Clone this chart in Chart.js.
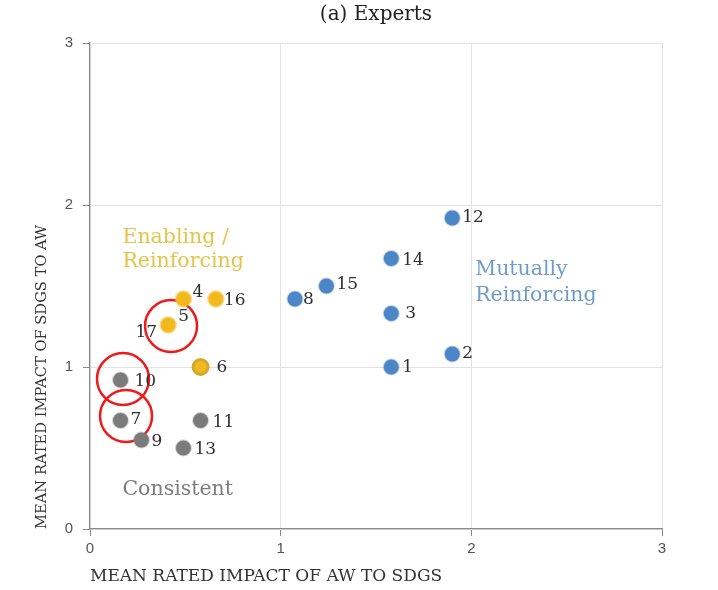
<!DOCTYPE html>
<html>
<head>
<meta charset="utf-8">
<title>(a) Experts</title>
<script src="https://cdn.jsdelivr.net/npm/chart.js@4.4.1/dist/chart.umd.min.js"></script>
<style>
  html, body { margin: 0; padding: 0; background: #ffffff; }
  #wrap { width: 718px; height: 590px; }
</style>
</head>
<body>
<div id="wrap"><canvas id="chart" width="718" height="590"></canvas></div>
<script>
// Mean rated impact of animal welfare (AW) to SDGs (x) and SDGs to AW (y), expert panel.
const tickValues = [0, 1, 2, 3];

// Mutually reinforcing SDGs
const mutualIds = ['1', '2', '3', '8', '12', '14', '15'];
const mutualX   = [1.58, 1.90, 1.58, 1.075, 1.90, 1.58, 1.24];
const mutualY   = [1.00, 1.08, 1.33, 1.42, 1.92, 1.67, 1.50];

// Enabling / reinforcing SDGs (17 shares its point with 5)
const enablingIds = ['4', '16', '5', '6'];
const enablingX   = [0.49, 0.66, 0.41, 0.58];
const enablingY   = [1.42, 1.42, 1.26, 1.00];

// Consistent SDGs
const consistentIds = ['10', '7', '9', '11', '13'];
const consistentX   = [0.16, 0.16, 0.27, 0.58, 0.49];
const consistentY   = [0.92, 0.67, 0.55, 0.67, 0.50];

// Highlight rings drawn around SDGs 5/17, 10 and 7
const ringX = [0.425, 0.173, 0.189];
const ringY = [1.253, 0.926, 0.698];

const pts = (xs, ys) => xs.map((x, i) => ({ x, y: ys[i] }));

// Where each number label sits relative to its dot
const labelOffsets = {
  '1': [11, 1, 'left'], '2': [10, 0, 'left'], '3': [14, 0, 'left'], '8': [8, 1, 'left'],
  '12': [10, 0, 'left'], '14': [11, 2, 'left'], '15': [10, -1, 'left'],
  '4': [9, -6, 'left'], '16': [8, 2, 'left'], '5': [10, -8, 'left'], '6': [16, 1, 'left'],
  '10': [14, 2, 'left'], '7': [10, -1, 'left'], '9': [10, 2, 'left'], '11': [12, 2, 'left'],
  '13': [11, 2, 'left'], '17': [-11, 8, 'right']
};

const pointLabels = {
  id: 'pointLabels',
  afterDatasetsDraw(chart) {
    const ctx = chart.ctx;
    ctx.save();
    ctx.font = '17px "DejaVu Serif", serif';
    ctx.fillStyle = '#2f2f2f';
    ctx.textBaseline = 'middle';
    chart.data.datasets.forEach((ds, di) => {
      if (!ds.ids) return;
      const meta = chart.getDatasetMeta(di);
      meta.data.forEach((el, i) => {
        const names = ds.ids[i] === '5' ? ['5', '17'] : [ds.ids[i]];
        names.forEach(name => {
          const [dx, dy, align] = labelOffsets[name];
          ctx.textAlign = align;
          ctx.fillText(name, el.x + dx, el.y + dy);
        });
      });
    });
    ctx.restore();
  }
};

const quadrantLabels = {
  id: 'quadrantLabels',
  beforeDatasetsDraw(chart) {
    const { ctx, scales: { x, y } } = chart;
    const items = [
      { lines: ['Enabling /', 'Reinforcing'], at: [0.17, 1.80], color: '#e6c44a', gap: 24 },
      { lines: ['Mutually', 'Reinforcing'], at: [2.02, 1.60], color: '#6f9cc8', gap: 26 },
      { lines: ['Consistent'], at: [0.17, 0.24], color: '#7d7d7d', gap: 0 }
    ];
    ctx.save();
    ctx.font = '20.5px "DejaVu Serif", serif';
    ctx.textAlign = 'left';
    ctx.textBaseline = 'middle';
    items.forEach(it => {
      ctx.fillStyle = it.color;
      const px = x.getPixelForValue(it.at[0]);
      const py = y.getPixelForValue(it.at[1]);
      it.lines.forEach((line, k) => ctx.fillText(line, px, py + k * it.gap));
    });
    ctx.restore();
  }
};

const axisCommon = {
  type: 'linear',
  min: 0,
  max: 3,
  afterBuildTicks(scale) { scale.ticks = tickValues.map(v => ({ value: v })); },
  grid: { color: '#e2e2e2', lineWidth: 1, tickColor: '#8a8a8a', tickLength: 7 },
  border: { display: true, color: '#8a8a8a', width: 1.2 }
};

new Chart(document.getElementById('chart'), {
  type: 'scatter',
  data: {
    datasets: [
      {
        label: 'Mutually Reinforcing', ids: mutualIds, data: pts(mutualX, mutualY),
        backgroundColor: '#4d86c6', borderColor: 'rgba(77,134,198,0.35)', borderWidth: 2,
        pointRadius: 7.5, pointHoverRadius: 7.5
      },
      {
        label: 'Enabling / Reinforcing', ids: enablingIds, data: pts(enablingX, enablingY),
        backgroundColor: '#f1b91e', borderColor: ['rgba(241,190,40,0.45)', 'rgba(241,190,40,0.45)', 'rgba(241,190,40,0.45)', '#d2a92e'],
        borderWidth: 3, pointRadius: 7.5, pointHoverRadius: 7.5
      },
      {
        label: 'Consistent', ids: consistentIds, data: pts(consistentX, consistentY),
        backgroundColor: '#7b7b7b', borderColor: 'rgba(123,123,123,0.35)', borderWidth: 2,
        pointRadius: 7.5, pointHoverRadius: 7.5
      },
      {
        // small grey core inside SDG 6
        label: 'core', data: pts([enablingX[3]], [enablingY[3]]),
        backgroundColor: '#8e7e88', borderWidth: 0, pointRadius: 3.5
      },
      {
        label: 'rings', data: pts(ringX, ringY),
        backgroundColor: 'rgba(0,0,0,0)', borderColor: '#f01818', borderWidth: 2.5,
        pointRadius: 26, pointHoverRadius: 26
      }
    ]
  },
  options: {
    responsive: false,
    animation: false,
    events: [],
    layout: { padding: { top: 0, right: 56, bottom: 0, left: 0 } },
    plugins: {
      legend: { display: false },
      tooltip: { enabled: false },
      title: {
        display: true,
        text: '(a) Experts',
        fullSize: false,
        color: '#222222',
        font: { family: '"DejaVu Serif", serif', size: 20, weight: 'normal' },
        padding: { top: 3, bottom: 16 }
      }
    },
    scales: {
      x: Object.assign({}, axisCommon, {
        position: 'bottom',
        ticks: { color: '#555555', font: { family: '"Liberation Sans", Arial, sans-serif', size: 15 }, padding: 4 },
        title: {
          display: true, align: 'start', text: 'MEAN RATED IMPACT OF AW TO SDGS',
          color: '#333333', font: { family: '"DejaVu Serif", serif', size: 17 },
          padding: { top: 0, bottom: 3 }
        },
        afterFit(scale) { scale.height = 61; }
      }),
      y: Object.assign({}, axisCommon, {
        position: 'left',
        ticks: { color: '#555555', font: { family: '"Liberation Sans", Arial, sans-serif', size: 15 }, padding: 10 },
        title: {
          display: true, align: 'start', text: 'MEAN RATED IMPACT OF SDGS TO AW',
          color: '#333333', font: { family: '"DejaVu Serif", serif', size: 14.7 },
          padding: { top: 33, bottom: 0 }
        },
        afterFit(scale) { scale.width = 90; }
      })
    }
  },
  plugins: [quadrantLabels, pointLabels]
});
</script>
</body>
</html>
